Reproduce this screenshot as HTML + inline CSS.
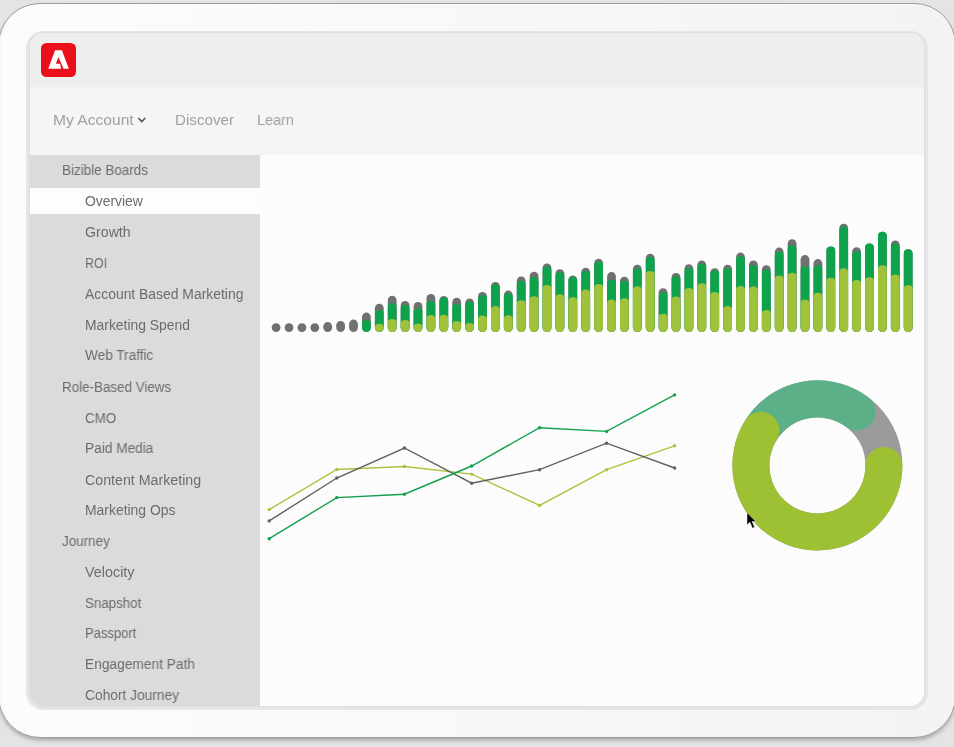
<!DOCTYPE html>
<html><head><meta charset="utf-8">
<style>
html,body{margin:0;padding:0;}
body{width:954px;height:747px;overflow:hidden;position:relative;background:#e4e4e4;font-family:"Liberation Sans",sans-serif;}
.frame{position:absolute;left:-2px;top:3.3px;width:957.6px;height:735px;border-radius:42px;background:linear-gradient(90deg,#fcfcfc,#f8f8f8 50%,#f3f3f3);box-sizing:border-box;border:1px solid #9c9c9c;box-shadow:inset 0 1px 0 #fff,inset 3px 0 3px -2px rgba(0,0,0,0.06),0 3px 4px -1px rgba(0,0,0,0.3);}

.screen{position:absolute;left:26px;top:31px;width:902px;height:678.5px;border-radius:17px;background:#e6e5e7;overflow:hidden;}
.inner{position:absolute;left:3.5px;top:2px;right:4px;bottom:4px;border-radius:14px;overflow:hidden;background:#fdfcfd;box-shadow:0 0 1.5px 0.5px rgba(0,0,0,0.04);}
.hdr{position:absolute;left:0;top:0;right:0;height:56px;background:linear-gradient(180deg,#eeeeef 0,#eeeeef 52px,#f5f4f7 56px);}
.nav{position:absolute;left:0;top:56px;right:0;height:65.5px;background:#f5f4f7;}
.side{position:absolute;left:0;top:122px;width:230.8px;bottom:0;background:#dcdbdc;}
.logo{position:absolute;left:41.2px;top:43px;width:34.6px;height:33.6px;border-radius:5.5px;background:#ea0f1a;}
.nv{position:absolute;font-size:14.9px;line-height:14.9px;color:#a0a0a3;white-space:nowrap;transform-origin:0 0;will-change:transform;}
.si{position:absolute;font-size:13.8px;line-height:13.8px;color:#6c6c6e;white-space:nowrap;transform-origin:0 0;will-change:transform;}
svg{position:absolute;left:0;top:0;}
</style></head><body>
<div class="frame"></div>
<div class="screen"><div class="inner">
<div class="hdr"></div>
<div class="nav"></div>
<div class="side"></div>
</div></div>
<div style="position:absolute;left:29.5px;top:187.6px;width:230.8px;height:26.8px;background:#fdfdfd"></div>
<div class="logo"><svg width="35" height="34" viewBox="0 0 34.6 33.6"><path d="M13.94,7.07 L20.71,7.07 L27.48,25.33 L22.36,25.33 L17.18,13.85 L14.71,20.62 L18.83,20.62 L20.01,25.33 L7.17,25.33 Z" fill="#fff"/></svg></div>
<div class="nv" style="top:112.89px;left:52.8px;transform:scaleX(1.0478)">My Account</div>
<div class="nv" style="top:112.89px;left:175px;transform:scaleX(1.0180)">Discover</div>
<div class="nv" style="top:112.89px;left:257px;transform:scaleX(0.9709)">Learn</div>
<div class="si" style="top:164.22px;left:61.5px;transform:scaleX(0.9749)">Bizible Boards</div>
<div class="si" style="top:194.92px;left:85.4px;transform:scaleX(1.0050)">Overview</div>
<div class="si" style="top:225.82px;left:85.4px;transform:scaleX(1.0274)">Growth</div>
<div class="si" style="top:256.52px;left:85.4px;transform:scaleX(0.8966)">ROI</div>
<div class="si" style="top:287.52px;left:85.4px;transform:scaleX(1.0073)">Account Based Marketing</div>
<div class="si" style="top:318.52px;left:85.4px;transform:scaleX(1.0055)">Marketing Spend</div>
<div class="si" style="top:349.42px;left:85.4px;transform:scaleX(0.9872)">Web Traffic</div>
<div class="si" style="top:380.62px;left:61.5px;transform:scaleX(0.9698)">Role-Based Views</div>
<div class="si" style="top:411.52px;left:85.4px;transform:scaleX(0.9690)">CMO</div>
<div class="si" style="top:441.72px;left:85.4px;transform:scaleX(0.9907)">Paid Media</div>
<div class="si" style="top:473.52px;left:85.4px;transform:scaleX(1.0305)">Content Marketing</div>
<div class="si" style="top:504.12px;left:85.4px;transform:scaleX(1.0085)">Marketing Ops</div>
<div class="si" style="top:535.12px;left:61.5px;transform:scaleX(0.9736)">Journey</div>
<div class="si" style="top:565.82px;left:85.4px;transform:scaleX(1.0408)">Velocity</div>
<div class="si" style="top:596.72px;left:85.4px;transform:scaleX(0.9655)">Snapshot</div>
<div class="si" style="top:627.42px;left:85.4px;transform:scaleX(0.9420)">Passport</div>
<div class="si" style="top:658.32px;left:85.4px;transform:scaleX(0.9956)">Engagement Path</div>
<div class="si" style="top:689.02px;left:85.4px;transform:scaleX(0.9963)">Cohort Journey</div>
<svg width="954" height="747">
<path d="M138.3,118 L141.8,121.6 L145.3,118" fill="none" stroke="#555" stroke-width="1.6"/>
<path d="M271.70,327.60 A4.4,4.4 0 0 1 280.50,327.60 L280.50,327.60 A4.4,4.4 0 0 1 271.70,327.60 Z" fill="#707070"/>
<path d="M284.60,327.60 A4.4,4.4 0 0 1 293.40,327.60 L293.40,327.60 A4.4,4.4 0 0 1 284.60,327.60 Z" fill="#707070"/>
<path d="M297.50,327.60 A4.4,4.4 0 0 1 306.30,327.60 L306.30,327.60 A4.4,4.4 0 0 1 297.50,327.60 Z" fill="#707070"/>
<path d="M310.40,327.60 A4.4,4.4 0 0 1 319.20,327.60 L319.20,327.60 A4.4,4.4 0 0 1 310.40,327.60 Z" fill="#707070"/>
<path d="M323.30,326.50 A4.4,4.4 0 0 1 332.10,326.50 L332.10,327.60 A4.4,4.4 0 0 1 323.30,327.60 Z" fill="#707070"/>
<path d="M336.20,325.30 A4.4,4.4 0 0 1 345.00,325.30 L345.00,327.60 A4.4,4.4 0 0 1 336.20,327.60 Z" fill="#707070"/>
<path d="M349.10,324.00 A4.4,4.4 0 0 1 357.90,324.00 L357.90,327.60 A4.4,4.4 0 0 1 349.10,327.60 Z" fill="#707070"/>
<path d="M362.00,317.00 A4.4,4.4 0 0 1 370.80,317.00 L370.80,327.60 A4.4,4.4 0 0 1 362.00,327.60 Z" fill="#707070"/>
<path d="M362.00,323.60 A4.4,3.6 0 0 1 370.80,323.60 L370.80,327.60 A4.4,4.4 0 0 1 362.00,327.60 Z" fill="#0ea24d"/>
<path d="M374.90,308.20 A4.4,4.4 0 0 1 383.70,308.20 L383.70,327.60 A4.4,4.4 0 0 1 374.90,327.60 Z" fill="#707070"/>
<path d="M374.90,313.60 A4.4,3.6 0 0 1 383.70,313.60 L383.70,327.60 A4.4,4.4 0 0 1 374.90,327.60 Z" fill="#0ea24d"/>
<path d="M374.90,327.40 A4.4,3.6 0 0 1 383.70,327.40 L383.70,327.60 A4.4,4.4 0 0 1 374.90,327.60 Z" fill="#9fc23a"/>
<path d="M387.80,300.10 A4.4,4.4 0 0 1 396.60,300.10 L396.60,327.60 A4.4,4.4 0 0 1 387.80,327.60 Z" fill="#707070"/>
<path d="M387.80,306.50 A4.4,3.6 0 0 1 396.60,306.50 L396.60,327.60 A4.4,4.4 0 0 1 387.80,327.60 Z" fill="#0ea24d"/>
<path d="M387.80,322.70 A4.4,3.6 0 0 1 396.60,322.70 L396.60,327.60 A4.4,4.4 0 0 1 387.80,327.60 Z" fill="#9fc23a"/>
<path d="M400.70,305.40 A4.4,4.4 0 0 1 409.50,305.40 L409.50,327.60 A4.4,4.4 0 0 1 400.70,327.60 Z" fill="#707070"/>
<path d="M400.70,308.60 A4.4,3.6 0 0 1 409.50,308.60 L409.50,327.60 A4.4,4.4 0 0 1 400.70,327.60 Z" fill="#0ea24d"/>
<path d="M400.70,323.60 A4.4,3.6 0 0 1 409.50,323.60 L409.50,327.60 A4.4,4.4 0 0 1 400.70,327.60 Z" fill="#9fc23a"/>
<path d="M413.60,306.40 A4.4,4.4 0 0 1 422.40,306.40 L422.40,327.60 A4.4,4.4 0 0 1 413.60,327.60 Z" fill="#707070"/>
<path d="M413.60,311.60 A4.4,3.6 0 0 1 422.40,311.60 L422.40,327.60 A4.4,4.4 0 0 1 413.60,327.60 Z" fill="#0ea24d"/>
<path d="M413.60,327.20 A4.4,3.6 0 0 1 422.40,327.20 L422.40,327.60 A4.4,4.4 0 0 1 413.60,327.60 Z" fill="#9fc23a"/>
<path d="M426.50,298.30 A4.4,4.4 0 0 1 435.30,298.30 L435.30,327.60 A4.4,4.4 0 0 1 426.50,327.60 Z" fill="#707070"/>
<path d="M426.50,304.50 A4.4,3.6 0 0 1 435.30,304.50 L435.30,327.60 A4.4,4.4 0 0 1 426.50,327.60 Z" fill="#0ea24d"/>
<path d="M426.50,318.50 A4.4,3.6 0 0 1 435.30,318.50 L435.30,327.60 A4.4,4.4 0 0 1 426.50,327.60 Z" fill="#9fc23a"/>
<path d="M439.40,300.40 A4.4,4.4 0 0 1 448.20,300.40 L448.20,327.60 A4.4,4.4 0 0 1 439.40,327.60 Z" fill="#707070"/>
<path d="M439.40,301.20 A4.4,3.6 0 0 1 448.20,301.20 L448.20,327.60 A4.4,4.4 0 0 1 439.40,327.60 Z" fill="#0ea24d"/>
<path d="M439.40,318.40 A4.4,3.6 0 0 1 448.20,318.40 L448.20,327.60 A4.4,4.4 0 0 1 439.40,327.60 Z" fill="#9fc23a"/>
<path d="M452.30,302.20 A4.4,4.4 0 0 1 461.10,302.20 L461.10,327.60 A4.4,4.4 0 0 1 452.30,327.60 Z" fill="#707070"/>
<path d="M452.30,307.50 A4.4,3.6 0 0 1 461.10,307.50 L461.10,327.60 A4.4,4.4 0 0 1 452.30,327.60 Z" fill="#0ea24d"/>
<path d="M452.30,324.70 A4.4,3.6 0 0 1 461.10,324.70 L461.10,327.60 A4.4,4.4 0 0 1 452.30,327.60 Z" fill="#9fc23a"/>
<path d="M465.20,302.90 A4.4,4.4 0 0 1 474.00,302.90 L474.00,327.60 A4.4,4.4 0 0 1 465.20,327.60 Z" fill="#707070"/>
<path d="M465.20,305.20 A4.4,3.6 0 0 1 474.00,305.20 L474.00,327.60 A4.4,4.4 0 0 1 465.20,327.60 Z" fill="#0ea24d"/>
<path d="M465.20,326.60 A4.4,3.6 0 0 1 474.00,326.60 L474.00,327.60 A4.4,4.4 0 0 1 465.20,327.60 Z" fill="#9fc23a"/>
<path d="M478.10,296.30 A4.4,4.4 0 0 1 486.90,296.30 L486.90,327.60 A4.4,4.4 0 0 1 478.10,327.60 Z" fill="#707070"/>
<path d="M478.10,298.50 A4.4,3.6 0 0 1 486.90,298.50 L486.90,327.60 A4.4,4.4 0 0 1 478.10,327.60 Z" fill="#0ea24d"/>
<path d="M478.10,319.20 A4.4,3.6 0 0 1 486.90,319.20 L486.90,327.60 A4.4,4.4 0 0 1 478.10,327.60 Z" fill="#9fc23a"/>
<path d="M491.00,286.30 A4.4,4.4 0 0 1 499.80,286.30 L499.80,327.60 A4.4,4.4 0 0 1 491.00,327.60 Z" fill="#707070"/>
<path d="M491.00,287.80 A4.4,3.6 0 0 1 499.80,287.80 L499.80,327.60 A4.4,4.4 0 0 1 491.00,327.60 Z" fill="#0ea24d"/>
<path d="M491.00,309.60 A4.4,3.6 0 0 1 499.80,309.60 L499.80,327.60 A4.4,4.4 0 0 1 491.00,327.60 Z" fill="#9fc23a"/>
<path d="M503.90,295.00 A4.4,4.4 0 0 1 512.70,295.00 L512.70,327.60 A4.4,4.4 0 0 1 503.90,327.60 Z" fill="#707070"/>
<path d="M503.90,296.50 A4.4,3.6 0 0 1 512.70,296.50 L512.70,327.60 A4.4,4.4 0 0 1 503.90,327.60 Z" fill="#0ea24d"/>
<path d="M503.90,318.80 A4.4,3.6 0 0 1 512.70,318.80 L512.70,327.60 A4.4,4.4 0 0 1 503.90,327.60 Z" fill="#9fc23a"/>
<path d="M516.80,280.90 A4.4,4.4 0 0 1 525.60,280.90 L525.60,327.60 A4.4,4.4 0 0 1 516.80,327.60 Z" fill="#707070"/>
<path d="M516.80,284.40 A4.4,3.6 0 0 1 525.60,284.40 L525.60,327.60 A4.4,4.4 0 0 1 516.80,327.60 Z" fill="#0ea24d"/>
<path d="M516.80,303.80 A4.4,3.6 0 0 1 525.60,303.80 L525.60,327.60 A4.4,4.4 0 0 1 516.80,327.60 Z" fill="#9fc23a"/>
<path d="M529.70,276.10 A4.4,4.4 0 0 1 538.50,276.10 L538.50,327.60 A4.4,4.4 0 0 1 529.70,327.60 Z" fill="#707070"/>
<path d="M529.70,280.40 A4.4,3.6 0 0 1 538.50,280.40 L538.50,327.60 A4.4,4.4 0 0 1 529.70,327.60 Z" fill="#0ea24d"/>
<path d="M529.70,299.80 A4.4,3.6 0 0 1 538.50,299.80 L538.50,327.60 A4.4,4.4 0 0 1 529.70,327.60 Z" fill="#9fc23a"/>
<path d="M542.60,267.80 A4.4,4.4 0 0 1 551.40,267.80 L551.40,327.60 A4.4,4.4 0 0 1 542.60,327.60 Z" fill="#707070"/>
<path d="M542.60,270.10 A4.4,3.6 0 0 1 551.40,270.10 L551.40,327.60 A4.4,4.4 0 0 1 542.60,327.60 Z" fill="#0ea24d"/>
<path d="M542.60,288.60 A4.4,3.6 0 0 1 551.40,288.60 L551.40,327.60 A4.4,4.4 0 0 1 542.60,327.60 Z" fill="#9fc23a"/>
<path d="M555.50,273.60 A4.4,4.4 0 0 1 564.30,273.60 L564.30,327.60 A4.4,4.4 0 0 1 555.50,327.60 Z" fill="#707070"/>
<path d="M555.50,275.70 A4.4,3.6 0 0 1 564.30,275.70 L564.30,327.60 A4.4,4.4 0 0 1 555.50,327.60 Z" fill="#0ea24d"/>
<path d="M555.50,297.80 A4.4,3.6 0 0 1 564.30,297.80 L564.30,327.60 A4.4,4.4 0 0 1 555.50,327.60 Z" fill="#9fc23a"/>
<path d="M568.40,279.90 A4.4,4.4 0 0 1 577.20,279.90 L577.20,327.60 A4.4,4.4 0 0 1 568.40,327.60 Z" fill="#707070"/>
<path d="M568.40,280.40 A4.4,3.6 0 0 1 577.20,280.40 L577.20,327.60 A4.4,4.4 0 0 1 568.40,327.60 Z" fill="#0ea24d"/>
<path d="M568.40,300.90 A4.4,3.6 0 0 1 577.20,300.90 L577.20,327.60 A4.4,4.4 0 0 1 568.40,327.60 Z" fill="#9fc23a"/>
<path d="M581.30,272.20 A4.4,4.4 0 0 1 590.10,272.20 L590.10,327.60 A4.4,4.4 0 0 1 581.30,327.60 Z" fill="#707070"/>
<path d="M581.30,274.40 A4.4,3.6 0 0 1 590.10,274.40 L590.10,327.60 A4.4,4.4 0 0 1 581.30,327.60 Z" fill="#0ea24d"/>
<path d="M581.30,293.10 A4.4,3.6 0 0 1 590.10,293.10 L590.10,327.60 A4.4,4.4 0 0 1 581.30,327.60 Z" fill="#9fc23a"/>
<path d="M594.20,263.10 A4.4,4.4 0 0 1 603.00,263.10 L603.00,327.60 A4.4,4.4 0 0 1 594.20,327.60 Z" fill="#707070"/>
<path d="M594.20,265.00 A4.4,3.6 0 0 1 603.00,265.00 L603.00,327.60 A4.4,4.4 0 0 1 594.20,327.60 Z" fill="#0ea24d"/>
<path d="M594.20,287.50 A4.4,3.6 0 0 1 603.00,287.50 L603.00,327.60 A4.4,4.4 0 0 1 594.20,327.60 Z" fill="#9fc23a"/>
<path d="M607.10,276.50 A4.4,4.4 0 0 1 615.90,276.50 L615.90,327.60 A4.4,4.4 0 0 1 607.10,327.60 Z" fill="#707070"/>
<path d="M607.10,283.10 A4.4,3.6 0 0 1 615.90,283.10 L615.90,327.60 A4.4,4.4 0 0 1 607.10,327.60 Z" fill="#0ea24d"/>
<path d="M607.10,303.20 A4.4,3.6 0 0 1 615.90,303.20 L615.90,327.60 A4.4,4.4 0 0 1 607.10,327.60 Z" fill="#9fc23a"/>
<path d="M620.00,281.20 A4.4,4.4 0 0 1 628.80,281.20 L628.80,327.60 A4.4,4.4 0 0 1 620.00,327.60 Z" fill="#707070"/>
<path d="M620.00,284.40 A4.4,3.6 0 0 1 628.80,284.40 L628.80,327.60 A4.4,4.4 0 0 1 620.00,327.60 Z" fill="#0ea24d"/>
<path d="M620.00,301.80 A4.4,3.6 0 0 1 628.80,301.80 L628.80,327.60 A4.4,4.4 0 0 1 620.00,327.60 Z" fill="#9fc23a"/>
<path d="M632.90,269.20 A4.4,4.4 0 0 1 641.70,269.20 L641.70,327.60 A4.4,4.4 0 0 1 632.90,327.60 Z" fill="#707070"/>
<path d="M632.90,271.80 A4.4,3.6 0 0 1 641.70,271.80 L641.70,327.60 A4.4,4.4 0 0 1 632.90,327.60 Z" fill="#0ea24d"/>
<path d="M632.90,289.80 A4.4,3.6 0 0 1 641.70,289.80 L641.70,327.60 A4.4,4.4 0 0 1 632.90,327.60 Z" fill="#9fc23a"/>
<path d="M645.80,258.20 A4.4,4.4 0 0 1 654.60,258.20 L654.60,327.60 A4.4,4.4 0 0 1 645.80,327.60 Z" fill="#707070"/>
<path d="M645.80,260.40 A4.4,3.6 0 0 1 654.60,260.40 L654.60,327.60 A4.4,4.4 0 0 1 645.80,327.60 Z" fill="#0ea24d"/>
<path d="M645.80,274.60 A4.4,3.6 0 0 1 654.60,274.60 L654.60,327.60 A4.4,4.4 0 0 1 645.80,327.60 Z" fill="#9fc23a"/>
<path d="M658.70,292.60 A4.4,4.4 0 0 1 667.50,292.60 L667.50,327.60 A4.4,4.4 0 0 1 658.70,327.60 Z" fill="#707070"/>
<path d="M658.70,295.50 A4.4,3.6 0 0 1 667.50,295.50 L667.50,327.60 A4.4,4.4 0 0 1 658.70,327.60 Z" fill="#0ea24d"/>
<path d="M658.70,317.30 A4.4,3.6 0 0 1 667.50,317.30 L667.50,327.60 A4.4,4.4 0 0 1 658.70,327.60 Z" fill="#9fc23a"/>
<path d="M671.60,277.40 A4.4,4.4 0 0 1 680.40,277.40 L680.40,327.60 A4.4,4.4 0 0 1 671.60,327.60 Z" fill="#707070"/>
<path d="M671.60,279.60 A4.4,3.6 0 0 1 680.40,279.60 L680.40,327.60 A4.4,4.4 0 0 1 671.60,327.60 Z" fill="#0ea24d"/>
<path d="M671.60,300.00 A4.4,3.6 0 0 1 680.40,300.00 L680.40,327.60 A4.4,4.4 0 0 1 671.60,327.60 Z" fill="#9fc23a"/>
<path d="M684.50,268.70 A4.4,4.4 0 0 1 693.30,268.70 L693.30,327.60 A4.4,4.4 0 0 1 684.50,327.60 Z" fill="#707070"/>
<path d="M684.50,271.30 A4.4,3.6 0 0 1 693.30,271.30 L693.30,327.60 A4.4,4.4 0 0 1 684.50,327.60 Z" fill="#0ea24d"/>
<path d="M684.50,291.70 A4.4,3.6 0 0 1 693.30,291.70 L693.30,327.60 A4.4,4.4 0 0 1 684.50,327.60 Z" fill="#9fc23a"/>
<path d="M697.40,264.90 A4.4,4.4 0 0 1 706.20,264.90 L706.20,327.60 A4.4,4.4 0 0 1 697.40,327.60 Z" fill="#707070"/>
<path d="M697.40,267.10 A4.4,3.6 0 0 1 706.20,267.10 L706.20,327.60 A4.4,4.4 0 0 1 697.40,327.60 Z" fill="#0ea24d"/>
<path d="M697.40,286.80 A4.4,3.6 0 0 1 706.20,286.80 L706.20,327.60 A4.4,4.4 0 0 1 697.40,327.60 Z" fill="#9fc23a"/>
<path d="M710.30,272.60 A4.4,4.4 0 0 1 719.10,272.60 L719.10,327.60 A4.4,4.4 0 0 1 710.30,327.60 Z" fill="#707070"/>
<path d="M710.30,273.80 A4.4,3.6 0 0 1 719.10,273.80 L719.10,327.60 A4.4,4.4 0 0 1 710.30,327.60 Z" fill="#0ea24d"/>
<path d="M710.30,295.50 A4.4,3.6 0 0 1 719.10,295.50 L719.10,327.60 A4.4,4.4 0 0 1 710.30,327.60 Z" fill="#9fc23a"/>
<path d="M723.20,269.10 A4.4,4.4 0 0 1 732.00,269.10 L732.00,327.60 A4.4,4.4 0 0 1 723.20,327.60 Z" fill="#707070"/>
<path d="M723.20,271.90 A4.4,3.6 0 0 1 732.00,271.90 L732.00,327.60 A4.4,4.4 0 0 1 723.20,327.60 Z" fill="#0ea24d"/>
<path d="M723.20,309.70 A4.4,3.6 0 0 1 732.00,309.70 L732.00,327.60 A4.4,4.4 0 0 1 723.20,327.60 Z" fill="#9fc23a"/>
<path d="M736.10,257.00 A4.4,4.4 0 0 1 744.90,257.00 L744.90,327.60 A4.4,4.4 0 0 1 736.10,327.60 Z" fill="#707070"/>
<path d="M736.10,259.60 A4.4,3.6 0 0 1 744.90,259.60 L744.90,327.60 A4.4,4.4 0 0 1 736.10,327.60 Z" fill="#0ea24d"/>
<path d="M736.10,289.70 A4.4,3.6 0 0 1 744.90,289.70 L744.90,327.60 A4.4,4.4 0 0 1 736.10,327.60 Z" fill="#9fc23a"/>
<path d="M749.00,264.90 A4.4,4.4 0 0 1 757.80,264.90 L757.80,327.60 A4.4,4.4 0 0 1 749.00,327.60 Z" fill="#707070"/>
<path d="M749.00,268.80 A4.4,3.6 0 0 1 757.80,268.80 L757.80,327.60 A4.4,4.4 0 0 1 749.00,327.60 Z" fill="#0ea24d"/>
<path d="M749.00,290.20 A4.4,3.6 0 0 1 757.80,290.20 L757.80,327.60 A4.4,4.4 0 0 1 749.00,327.60 Z" fill="#9fc23a"/>
<path d="M761.90,269.60 A4.4,4.4 0 0 1 770.70,269.60 L770.70,327.60 A4.4,4.4 0 0 1 761.90,327.60 Z" fill="#707070"/>
<path d="M761.90,272.90 A4.4,3.6 0 0 1 770.70,272.90 L770.70,327.60 A4.4,4.4 0 0 1 761.90,327.60 Z" fill="#0ea24d"/>
<path d="M761.90,313.60 A4.4,3.6 0 0 1 770.70,313.60 L770.70,327.60 A4.4,4.4 0 0 1 761.90,327.60 Z" fill="#9fc23a"/>
<path d="M774.80,252.00 A4.4,4.4 0 0 1 783.60,252.00 L783.60,327.60 A4.4,4.4 0 0 1 774.80,327.60 Z" fill="#707070"/>
<path d="M774.80,255.40 A4.4,3.6 0 0 1 783.60,255.40 L783.60,327.60 A4.4,4.4 0 0 1 774.80,327.60 Z" fill="#0ea24d"/>
<path d="M774.80,279.10 A4.4,3.6 0 0 1 783.60,279.10 L783.60,327.60 A4.4,4.4 0 0 1 774.80,327.60 Z" fill="#9fc23a"/>
<path d="M787.70,243.60 A4.4,4.4 0 0 1 796.50,243.60 L796.50,327.60 A4.4,4.4 0 0 1 787.70,327.60 Z" fill="#707070"/>
<path d="M787.70,248.70 A4.4,3.6 0 0 1 796.50,248.70 L796.50,327.60 A4.4,4.4 0 0 1 787.70,327.60 Z" fill="#0ea24d"/>
<path d="M787.70,276.30 A4.4,3.6 0 0 1 796.50,276.30 L796.50,327.60 A4.4,4.4 0 0 1 787.70,327.60 Z" fill="#9fc23a"/>
<path d="M800.60,259.50 A4.4,4.4 0 0 1 809.40,259.50 L809.40,327.60 A4.4,4.4 0 0 1 800.60,327.60 Z" fill="#707070"/>
<path d="M800.60,269.60 A4.4,3.6 0 0 1 809.40,269.60 L809.40,327.60 A4.4,4.4 0 0 1 800.60,327.60 Z" fill="#0ea24d"/>
<path d="M800.60,303.00 A4.4,3.6 0 0 1 809.40,303.00 L809.40,327.60 A4.4,4.4 0 0 1 800.60,327.60 Z" fill="#9fc23a"/>
<path d="M813.50,263.50 A4.4,4.4 0 0 1 822.30,263.50 L822.30,327.60 A4.4,4.4 0 0 1 813.50,327.60 Z" fill="#707070"/>
<path d="M813.50,268.80 A4.4,3.6 0 0 1 822.30,268.80 L822.30,327.60 A4.4,4.4 0 0 1 813.50,327.60 Z" fill="#0ea24d"/>
<path d="M813.50,296.40 A4.4,3.6 0 0 1 822.30,296.40 L822.30,327.60 A4.4,4.4 0 0 1 813.50,327.60 Z" fill="#9fc23a"/>
<path d="M826.40,250.90 A4.4,4.4 0 0 1 835.20,250.90 L835.20,327.60 A4.4,4.4 0 0 1 826.40,327.60 Z" fill="#707070"/>
<path d="M826.40,250.10 A4.4,3.6 0 0 1 835.20,250.10 L835.20,327.60 A4.4,4.4 0 0 1 826.40,327.60 Z" fill="#0ea24d"/>
<path d="M826.40,281.40 A4.4,3.6 0 0 1 835.20,281.40 L835.20,327.60 A4.4,4.4 0 0 1 826.40,327.60 Z" fill="#9fc23a"/>
<path d="M839.30,228.10 A4.4,4.4 0 0 1 848.10,228.10 L848.10,327.60 A4.4,4.4 0 0 1 839.30,327.60 Z" fill="#707070"/>
<path d="M839.30,230.00 A4.4,3.6 0 0 1 848.10,230.00 L848.10,327.60 A4.4,4.4 0 0 1 839.30,327.60 Z" fill="#0ea24d"/>
<path d="M839.30,271.80 A4.4,3.6 0 0 1 848.10,271.80 L848.10,327.60 A4.4,4.4 0 0 1 839.30,327.60 Z" fill="#9fc23a"/>
<path d="M852.20,251.70 A4.4,4.4 0 0 1 861.00,251.70 L861.00,327.60 A4.4,4.4 0 0 1 852.20,327.60 Z" fill="#707070"/>
<path d="M852.20,254.60 A4.4,3.6 0 0 1 861.00,254.60 L861.00,327.60 A4.4,4.4 0 0 1 852.20,327.60 Z" fill="#0ea24d"/>
<path d="M852.20,283.60 A4.4,3.6 0 0 1 861.00,283.60 L861.00,327.60 A4.4,4.4 0 0 1 852.20,327.60 Z" fill="#9fc23a"/>
<path d="M865.10,247.90 A4.4,4.4 0 0 1 873.90,247.90 L873.90,327.60 A4.4,4.4 0 0 1 865.10,327.60 Z" fill="#707070"/>
<path d="M865.10,247.10 A4.4,3.6 0 0 1 873.90,247.10 L873.90,327.60 A4.4,4.4 0 0 1 865.10,327.60 Z" fill="#0ea24d"/>
<path d="M865.10,280.90 A4.4,3.6 0 0 1 873.90,280.90 L873.90,327.60 A4.4,4.4 0 0 1 865.10,327.60 Z" fill="#9fc23a"/>
<path d="M878.00,236.10 A4.4,4.4 0 0 1 886.80,236.10 L886.80,327.60 A4.4,4.4 0 0 1 878.00,327.60 Z" fill="#707070"/>
<path d="M878.00,235.30 A4.4,3.6 0 0 1 886.80,235.30 L886.80,327.60 A4.4,4.4 0 0 1 878.00,327.60 Z" fill="#0ea24d"/>
<path d="M878.00,268.80 A4.4,3.6 0 0 1 886.80,268.80 L886.80,327.60 A4.4,4.4 0 0 1 878.00,327.60 Z" fill="#9fc23a"/>
<path d="M890.90,244.80 A4.4,4.4 0 0 1 899.70,244.80 L899.70,327.60 A4.4,4.4 0 0 1 890.90,327.60 Z" fill="#707070"/>
<path d="M890.90,247.10 A4.4,3.6 0 0 1 899.70,247.10 L899.70,327.60 A4.4,4.4 0 0 1 890.90,327.60 Z" fill="#0ea24d"/>
<path d="M890.90,278.00 A4.4,3.6 0 0 1 899.70,278.00 L899.70,327.60 A4.4,4.4 0 0 1 890.90,327.60 Z" fill="#9fc23a"/>
<path d="M903.80,253.70 A4.4,4.4 0 0 1 912.60,253.70 L912.60,327.60 A4.4,4.4 0 0 1 903.80,327.60 Z" fill="#707070"/>
<path d="M903.80,252.90 A4.4,3.6 0 0 1 912.60,252.90 L912.60,327.60 A4.4,4.4 0 0 1 903.80,327.60 Z" fill="#0ea24d"/>
<path d="M903.80,288.60 A4.4,3.6 0 0 1 912.60,288.60 L912.60,327.60 A4.4,4.4 0 0 1 903.80,327.60 Z" fill="#9fc23a"/>
<polyline points="269.2,509.6 336.8,469.5 404.4,466.5 471.7,474.1 539.6,505.4 606.6,469.7 674.6,445.8" fill="none" stroke="#a9c43c" stroke-width="1.4" stroke-linejoin="miter"/><circle cx="269.2" cy="509.6" r="1.7" fill="#a9c43c"/><circle cx="336.8" cy="469.5" r="1.7" fill="#a9c43c"/><circle cx="404.4" cy="466.5" r="1.7" fill="#a9c43c"/><circle cx="471.7" cy="474.1" r="1.7" fill="#a9c43c"/><circle cx="539.6" cy="505.4" r="1.7" fill="#a9c43c"/><circle cx="606.6" cy="469.7" r="1.7" fill="#a9c43c"/><circle cx="674.6" cy="445.8" r="1.7" fill="#a9c43c"/><polyline points="269.2,520.9 336.8,478.0 404.4,448.0 471.7,483.2 539.6,469.7 606.6,443.2 674.6,468.0" fill="none" stroke="#606060" stroke-width="1.4" stroke-linejoin="miter"/><circle cx="269.2" cy="520.9" r="1.7" fill="#606060"/><circle cx="336.8" cy="478.0" r="1.7" fill="#606060"/><circle cx="404.4" cy="448.0" r="1.7" fill="#606060"/><circle cx="471.7" cy="483.2" r="1.7" fill="#606060"/><circle cx="539.6" cy="469.7" r="1.7" fill="#606060"/><circle cx="606.6" cy="443.2" r="1.7" fill="#606060"/><circle cx="674.6" cy="468.0" r="1.7" fill="#606060"/><polyline points="269.2,538.7 336.8,497.6 404.4,494.2 471.7,466.0 539.6,427.7 606.6,431.4 674.6,394.9" fill="none" stroke="#10a04b" stroke-width="1.4" stroke-linejoin="miter"/><circle cx="269.2" cy="538.7" r="1.7" fill="#10a04b"/><circle cx="336.8" cy="497.6" r="1.7" fill="#10a04b"/><circle cx="404.4" cy="494.2" r="1.7" fill="#10a04b"/><circle cx="471.7" cy="466.0" r="1.7" fill="#10a04b"/><circle cx="539.6" cy="427.7" r="1.7" fill="#10a04b"/><circle cx="606.6" cy="431.4" r="1.7" fill="#10a04b"/><circle cx="674.6" cy="394.9" r="1.7" fill="#10a04b"/>
<circle cx="817.4" cy="465.4" r="66.5" fill="none" stroke="#9b9b9b" stroke-width="37"/>
<path d="M753.17,448.19 A66.5,66.5 0 0 1 856.96,411.94" fill="none" stroke="#5bb087" stroke-width="37" stroke-linecap="round"/>
<path d="M883.90,465.40 A66.5,66.5 0 1 1 760.88,430.36" fill="none" stroke="#9dc133" stroke-width="37" stroke-linecap="round"/>
<path d="M747,512.6 L747,525 L749.9,522.2 L752.4,528.2 L754.6,527.3 L752.2,521.6 L756,521.6 Z" fill="#000" stroke="#fff" stroke-width="0.5" stroke-linejoin="round"/>
</svg>
</body></html>
